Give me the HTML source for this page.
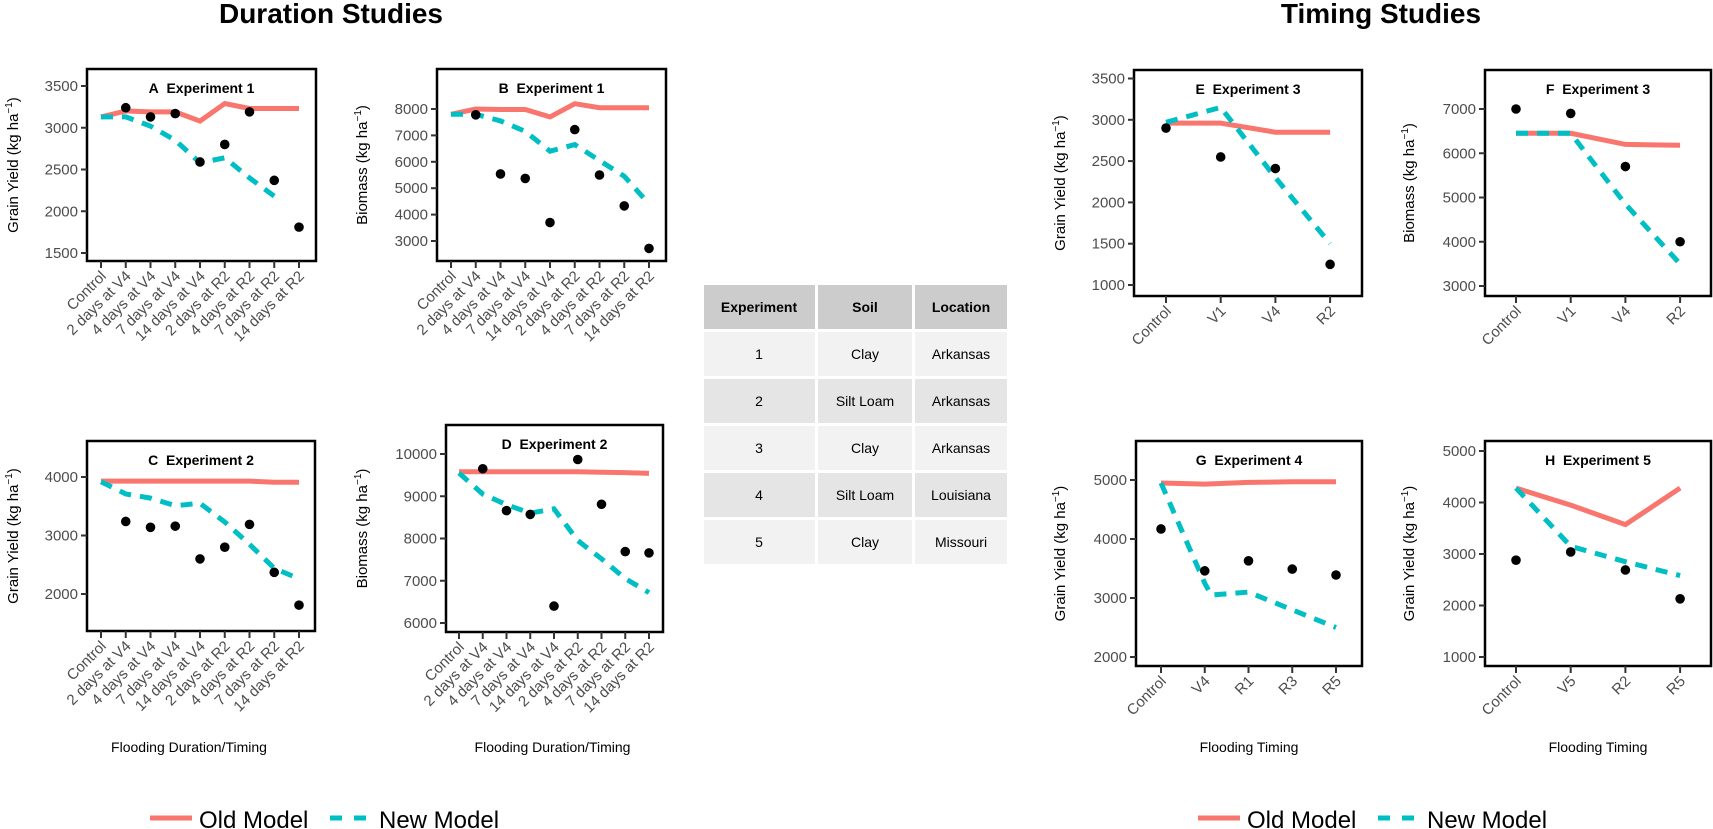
<!DOCTYPE html>
<html><head><meta charset="utf-8"><style>
html,body{margin:0;padding:0;background:#fff;}
svg{display:block;font-family:"Liberation Sans",Arial,sans-serif;}
</style></head><body>
<svg id="s" width="1713" height="829" xmlns="http://www.w3.org/2000/svg">
<text x="331" y="23" font-size="28" font-weight="bold" text-anchor="middle">Duration Studies</text>
<text x="1381" y="23" font-size="28" font-weight="bold" text-anchor="middle">Timing Studies</text>
<g font-size="14" text-anchor="middle">
<rect x="704" y="285" width="111" height="44" fill="#cccccc"/><rect x="818" y="285" width="94" height="44" fill="#cccccc"/><rect x="915" y="285" width="92" height="44" fill="#cccccc"/>
<text x="759" y="312" font-weight="bold">Experiment</text><text x="865" y="312" font-weight="bold">Soil</text><text x="961" y="312" font-weight="bold">Location</text>
</g>
<g id="tbl" font-size="14" text-anchor="middle"></g>
<g id="plots"></g>
<line x1="150" y1="818" x2="192" y2="818" stroke="#F8766D" stroke-width="5"/>
<text x="199" y="828" font-size="24">Old Model</text>
<line x1="330" y1="818" x2="366" y2="818" stroke="#00BFC4" stroke-width="5" stroke-dasharray="12,12"/>
<text x="379" y="828" font-size="24">New Model</text>
<line x1="1198" y1="818" x2="1240" y2="818" stroke="#F8766D" stroke-width="5"/>
<text x="1247" y="828" font-size="24">Old Model</text>
<line x1="1378" y1="818" x2="1414" y2="818" stroke="#00BFC4" stroke-width="5" stroke-dasharray="12,12"/>
<text x="1427" y="828" font-size="24">New Model</text>
</svg>
<script>
var NS="http://www.w3.org/2000/svg";
function el(p,t,a,txt){var e=document.createElementNS(NS,t);for(var k in a)e.setAttribute(k,a[k]);if(txt!=null)e.textContent=txt;p.appendChild(e);return e;}
var tbl=document.getElementById('tbl');
var rows=[["1","Clay","Arkansas"],["2","Silt Loam","Arkansas"],["3","Clay","Arkansas"],["4","Silt Loam","Louisiana"],["5","Clay","Missouri"]];
rows.forEach(function(r,i){var y=332+i*47;var c=i%2?"#e5e5e5":"#f2f2f2";
el(tbl,'rect',{x:704,y:y,width:111,height:44,fill:c});el(tbl,'rect',{x:818,y:y,width:94,height:44,fill:c});el(tbl,'rect',{x:915,y:y,width:92,height:44,fill:c});
el(tbl,'text',{x:759,y:y+27},r[0]);el(tbl,'text',{x:865,y:y+27},r[1]);el(tbl,'text',{x:961,y:y+27},r[2]);});
var dur=["Control","2 days at V4","4 days at V4","7 days at V4","14 days at V4","2 days at R2","4 days at R2","7 days at R2","14 days at R2"];
function rng(a){return a.map(function(v,i){return [i,v];});}
var S="\u00a0 ";
var P=[
{L:87,R:316,T:69,B:261,x0:101,dx:24.75,ya:86,va:3500,k:41.75/500,ticks:[1500,2000,2500,3000,3500],title:"A"+S+"Experiment 1",yl:"Grain Yield",ylx:18,xl:dur,
old:rng([3130,3200,3190,3190,3080,3290,3230,3230,3230]),nw:rng([3130,3130,3020,2850,2580,2640,2400,2180]),pts:[[1,3240],[2,3130],[3,3170],[4,2590],[5,2800],[6,3190],[7,2370],[8,1810]]},
{L:437,R:666,T:69,B:261,x0:451,dx:24.75,ya:109,va:8000,k:0.0264,ticks:[3000,4000,5000,6000,7000,8000],title:"B"+S+"Experiment 1",yl:"Biomass",ylx:367,xl:dur,
old:rng([7800,8000,7980,7980,7700,8200,8050,8050,8050]),nw:rng([7800,7800,7550,7150,6400,6650,6050,5450,4400]),pts:[[1,7780],[2,5540],[3,5370],[4,3700],[5,7220],[6,5500],[7,4330],[8,2720]]},
{L:87,R:315,T:441,B:631,x0:101,dx:24.75,ya:477,va:4000,k:0.0585,ticks:[2000,3000,4000],title:"C"+S+"Experiment 2",yl:"Grain Yield",ylx:18,xl:dur,xt:"Flooding Duration/Timing",
old:rng([3930,3930,3930,3930,3930,3930,3930,3910,3910]),nw:rng([3920,3710,3640,3510,3550,3230,2850,2440,2260]),pts:[[1,3240],[2,3140],[3,3160],[4,2600],[5,2800],[6,3190],[7,2370],[8,1810]]},
{L:446,R:663,T:425,B:632,x0:459,dx:23.75,ya:454,va:10000,k:0.04225,ticks:[6000,7000,8000,9000,10000],title:"D"+S+"Experiment 2",yl:"Biomass",ylx:367,xl:dur,xt:"Flooding Duration/Timing",
old:rng([9580,9580,9580,9580,9580,9580,9570,9560,9540]),nw:rng([9550,9050,8800,8600,8700,7950,7520,7050,6720]),pts:[[1,9650],[2,8660],[3,8570],[4,6400],[5,9870],[6,8810],[7,7690],[8,7660]]},
{L:1134,R:1362,T:70,B:296,x0:1166,dx:54.7,ya:285,va:1000,k:41.3/500,ticks:[1000,1500,2000,2500,3000,3500],title:"E"+S+"Experiment 3",yl:"Grain Yield",ylx:1065,xl:["Control","V1","V4","R2"],
old:rng([2960,2960,2850,2850]),nw:rng([2970,3150,2300,1500]),pts:[[0,2900],[1,2550],[2,2410],[3,1250]]},
{L:1485,R:1711,T:70,B:296,x0:1516,dx:54.7,ya:286,va:3000,k:0.04425,ticks:[3000,4000,5000,6000,7000],title:"F"+S+"Experiment 3",yl:"Biomass",ylx:1414,xl:["Control","V1","V4","R2"],
old:rng([6450,6450,6200,6180]),nw:rng([6450,6450,4850,3500]),pts:[[0,7000],[1,6900],[2,5700],[3,4000]]},
{L:1136,R:1362,T:441,B:666,x0:1161,dx:43.75,ya:657,va:2000,k:0.059,ticks:[2000,3000,4000,5000],title:"G"+S+"Experiment 4",yl:"Grain Yield",ylx:1065,xl:["Control","V4","R1","R3","R5"],xt:"Flooding Timing",
old:rng([4950,4930,4960,4970,4970]),nw:[[0,4950],[1,3250],[1.15,3050],[2,3100],[3,2800],[4,2500]],pts:[[0,4170],[1,3460],[2,3630],[3,3490],[4,3390]]},
{L:1485,R:1711,T:441,B:666,x0:1516,dx:54.7,ya:657,va:1000,k:0.0515,ticks:[1000,2000,3000,4000,5000],title:"H"+S+"Experiment 5",yl:"Grain Yield",ylx:1414,xl:["Control","V5","R2","R5"],xt:"Flooding Timing",
old:rng([4280,3950,3570,4280]),nw:rng([4280,3150,2850,2580]),pts:[[0,2880],[1,3040],[2,2690],[3,2130]]}
];
var g=document.getElementById('plots');
P.forEach(function(p,n){
 var X=function(i){return p.x0+p.dx*i;},Y=function(v){return p.ya-(v-p.va)*p.k;};
 var cid='c'+n;var cp=el(g,'clipPath',{id:cid});el(cp,'rect',{x:p.L,y:p.T,width:p.R-p.L,height:p.B-p.T});
 var cg=el(g,'g',{'clip-path':'url(#'+cid+')'});
 function pl(a){return a.map(function(q){return X(q[0]).toFixed(1)+','+Y(q[1]).toFixed(1);}).join(' ');}
 el(cg,'polyline',{points:pl(p.old),fill:'none',stroke:'#F8766D','stroke-width':5});
 el(cg,'polyline',{points:pl(p.nw),fill:'none',stroke:'#00BFC4','stroke-width':5,'stroke-dasharray':'12,9'});
 p.pts.forEach(function(q){el(cg,'circle',{cx:X(q[0]),cy:Y(q[1]),r:4.8,fill:'#000'});});
 el(g,'rect',{x:p.L,y:p.T,width:p.R-p.L,height:p.B-p.T,fill:'none',stroke:'#000','stroke-width':2.5});
 el(g,'text',{x:(p.L+p.R)/2,y:p.T+24,'font-size':14,'font-weight':'bold','text-anchor':'middle'},p.title);
 p.ticks.forEach(function(v){var y=Y(v);el(g,'line',{x1:p.L-6,x2:p.L,y1:y,y2:y,stroke:'#333','stroke-width':2});
  el(g,'text',{x:p.L-9,y:y+5,'font-size':15,fill:'#4d4d4d','text-anchor':'end'},String(v));});
 p.xl.forEach(function(s,i){var x=X(i);el(g,'line',{x1:x,x2:x,y1:p.B,y2:p.B+7,stroke:'#333','stroke-width':2});
  el(g,'text',{transform:'translate('+(x+6)+','+(p.B+16)+') rotate(-45)','font-size':15,fill:'#4d4d4d','text-anchor':'end'},s);});
 var cy=(p.T+p.B)/2;
 var t=el(g,'text',{transform:'translate('+p.ylx+','+cy+') rotate(-90)','font-size':15,'text-anchor':'middle'});
 el(t,'tspan',{},p.yl+' (kg ha');el(t,'tspan',{dy:-6,'font-size':10},'\u22121');el(t,'tspan',{dy:6},')');
 if(p.xt)el(g,'text',{x:(p.L+p.R)/2+(n==2?-12:n==3?-2:0),y:752,'font-size':14,'text-anchor':'middle'},p.xt);
});
</script>
</body></html>
